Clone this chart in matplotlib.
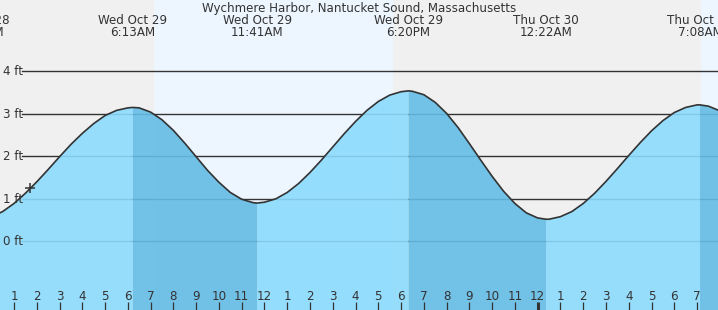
import numpy as np
import matplotlib.pyplot as plt
from matplotlib import transforms

# hours since midnight Wed Oct 29, tide height in ft
hours = [0.0, 0.5, 1.0, 1.5, 2.0, 2.5, 3.0, 3.5, 4.0, 4.5, 5.0, 5.5, 6.0, 6.22,
         6.5, 7.0, 7.5, 8.0, 8.5, 9.0, 9.5, 10.0, 10.5, 11.0, 11.5, 11.68,
         12.0, 12.5, 13.0, 13.5, 14.0, 14.5, 15.0, 15.5, 16.0, 16.5, 17.0, 17.5, 18.0, 18.33,
         18.5, 19.0, 19.5, 20.0, 20.5, 21.0, 21.5, 22.0, 22.5, 23.0, 23.5, 24.0, 24.37,
         24.5, 25.0, 25.5, 26.0, 26.5, 27.0, 27.5, 28.0, 28.5, 29.0, 29.5, 30.0, 30.5, 31.0, 31.13,
         31.5, 32.0]
height_ft = [0.57, 0.7, 0.89, 1.13, 1.4, 1.69, 1.99, 2.28, 2.54, 2.77, 2.96, 3.08, 3.14, 3.15,
             3.14, 3.04, 2.86, 2.61, 2.31, 1.99, 1.67, 1.39, 1.15, 0.99, 0.91, 0.9,
             0.92, 1.0, 1.15, 1.36, 1.62, 1.91, 2.22, 2.53, 2.82, 3.08, 3.29, 3.44, 3.52, 3.54,
             3.53, 3.45, 3.27, 3.01, 2.68, 2.3, 1.91, 1.53, 1.18, 0.89, 0.67, 0.55, 0.52,
             0.52, 0.58, 0.7, 0.89, 1.13, 1.41, 1.71, 2.02, 2.32, 2.6, 2.84, 3.03, 3.15, 3.21, 3.21,
             3.18, 3.07]

event_hours = [-0.58, 6.22, 11.68, 18.33, 24.37, 31.13]
event_dates = ["Tue Oct 28", "Wed Oct 29", "Wed Oct 29", "Wed Oct 29", "Thu Oct 30", "Thu Oct 30"]
event_times = ["11:25PM", "6:13AM", "11:41AM", "6:20PM", "12:22AM", "7:08AM"]
high_hours = [6.22, 18.33, 31.13]
low_hours = [11.68, 24.37, 99.0]

sunrise_hours = [7.15, 31.17]
sunset_hours = [17.65, 99.0]

now_hour = 1.70
now_height = 1.26

grid_ft = [0, 1, 2, 3, 4]
grid_labels = ["0 ft", "1 ft", "2 ft", "3 ft", "4 ft"]
tick_hours = list(range(1, 32))
tick_labels = ["1", "2", "3", "4", "5", "6", "7", "8", "9", "10", "11", "12",
               "1", "2", "3", "4", "5", "6", "7", "8", "9", "10", "11", "12",
               "1", "2", "3", "4", "5", "6", "7"]
midnight_hour = 24

title = "Wychmere Harbor, Nantucket Sound, Massachusetts"

W, H = 718, 310
fig = plt.figure(figsize=(W / 100, H / 100), dpi=100)
ax = fig.add_axes([0, 0, 1, 1])
ax.set_xlim(0.385, 31.92)
ax.set_ylim(-1.616, 5.678)
ax.axis('off')
ax.add_patch(plt.Rectangle((0, 0), 1, 1, transform=ax.transAxes, color='#f0f0f0', zorder=0))

for a, b in zip(sunrise_hours, sunset_hours):
    ax.axvspan(a, b, color='#edf6ff', lw=0, zorder=0.5)

for g in grid_ft:
    ax.axhline(g, xmin=22 / W, color='#333333', lw=1.0, zorder=1)

t = np.array(hours)
h = np.array(height_ft)
falling = np.zeros(len(t), dtype=bool)
for hi, lo in zip(high_hours, low_hours):
    falling |= (t >= hi) & (t <= lo)
rising = ~falling
for hi in high_hours:
    rising |= np.isclose(t, hi)
for lo in low_hours:
    rising |= np.isclose(t, lo)

bottom = -2
ax.fill_between(t, h, bottom, where=rising, color='#8cdbfd', alpha=0.9, lw=0, zorder=2)
ax.fill_between(t, h, bottom, where=falling, color='#64bce5', alpha=0.9, lw=0, zorder=2)
ax.plot(t, h, color='#333333', lw=1.2, zorder=3)
ax.plot([now_hour], [now_height], marker='+', ms=7, mew=1.1, color='#333333', zorder=4)

txt = dict(color='#333333', fontsize=8.6, family='DejaVu Sans')
xa = transforms.blended_transform_factory(ax.transData, ax.transAxes)
ya = transforms.offset_copy(transforms.blended_transform_factory(ax.transAxes, ax.transData),
                            fig=fig, y=-3.7, units='dots')

for g, lab in zip(grid_ft, grid_labels):
    ax.text(3 / W, g, lab, transform=ya, ha='left', va='baseline', zorder=5, **txt)

for hr, lab in zip(tick_hours, tick_labels):
    ax.text(hr, 10 / H, lab, transform=xa, ha='center', va='baseline', zorder=5, **txt)
    lw = 2.2 if hr == midnight_hour else 0.9
    ax.plot([hr, hr], [0, 8 / H], transform=xa, color='#333333', lw=lw, zorder=5,
            solid_capstyle='butt')

ax.text(0.5, 1 - 12 / H, title, transform=ax.transAxes, ha='center', va='baseline', zorder=5, **txt)
for hr, d, tm in zip(event_hours, event_dates, event_times):
    ax.text(hr, 1 - 24 / H, d, transform=xa, ha='center', va='baseline', zorder=5, **txt)
    ax.text(hr, 1 - 36 / H, tm, transform=xa, ha='center', va='baseline', zorder=5, **txt)

fig.savefig('out.png', dpi=100)
